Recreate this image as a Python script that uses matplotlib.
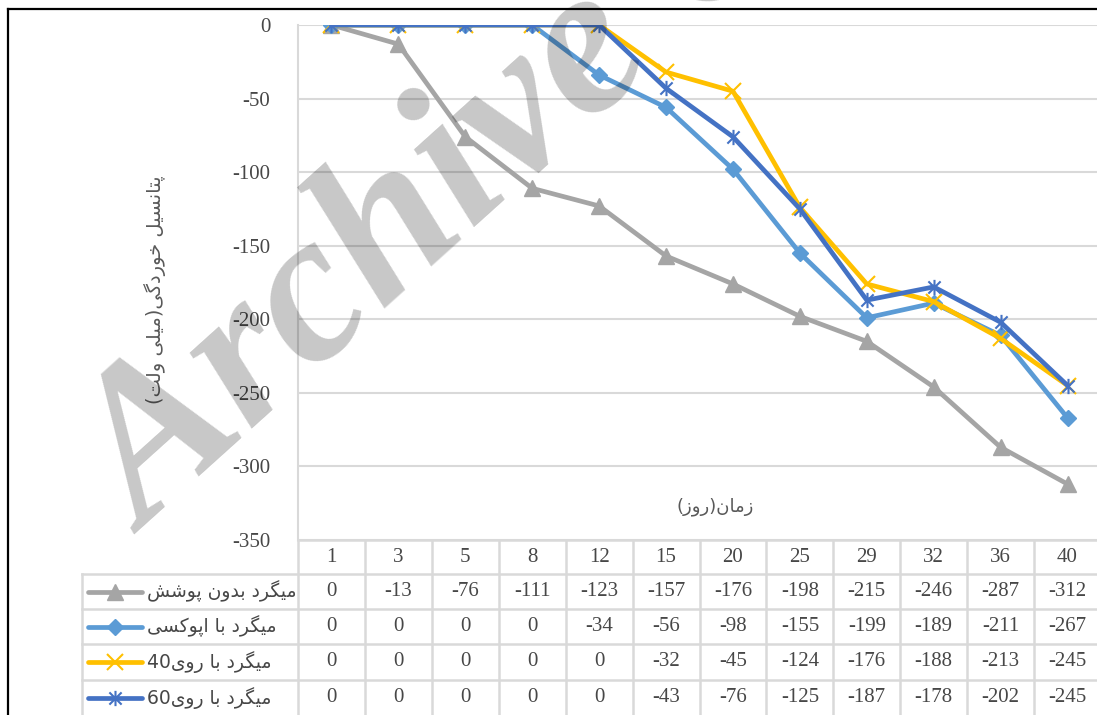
import matplotlib
matplotlib.use("Agg")
import matplotlib.pyplot as plt
from matplotlib import transforms
from matplotlib.lines import Line2D
from matplotlib.path import Path
import re

# ---------------- data ----------------
days = ["1", "3", "5", "8", "12", "15", "20", "25", "29", "32", "36", "40"]
uncoated = [0, -13, -76, -111, -123, -157, -176, -198, -215, -246, -287, -312]
epoxy = [0, 0, 0, 0, -34, -56, -98, -155, -199, -189, -211, -267]
zinc40 = [0, 0, 0, 0, 0, -32, -45, -124, -176, -188, -213, -245]
zinc60 = [0, 0, 0, 0, 0, -43, -76, -125, -187, -178, -202, -245]
series_names = ["میگرد بدون پوشش", "میگرد با اپوکسی", "میگرد با روی40", "میگرد با روی60"]
y_label = "پتانسیل خوردگی(میلی ولت)"
x_label = "زمان(روز)"
y_ticks = [0, -50, -100, -150, -200, -250, -300, -350]

# ------------- simple Persian shaping (visual order) -------------
FORMS = {
    'ا': ('\uFE8D', '\uFE8E', None, None),
    'ب': ('\uFE8F', '\uFE90', '\uFE91', '\uFE92'),
    'پ': ('\uFB56', '\uFB57', '\uFB58', '\uFB59'),
    'ت': ('\uFE95', '\uFE96', '\uFE97', '\uFE98'),
    'خ': ('\uFEA5', '\uFEA6', '\uFEA7', '\uFEA8'),
    'د': ('\uFEA9', '\uFEAA', None, None),
    'ر': ('\uFEAD', '\uFEAE', None, None),
    'ز': ('\uFEAF', '\uFEB0', None, None),
    'س': ('\uFEB1', '\uFEB2', '\uFEB3', '\uFEB4'),
    'ش': ('\uFEB5', '\uFEB6', '\uFEB7', '\uFEB8'),
    'ک': ('\uFB8E', '\uFB8F', '\uFB90', '\uFB91'),
    'گ': ('\uFB92', '\uFB93', '\uFB94', '\uFB95'),
    'ل': ('\uFEDD', '\uFEDE', '\uFEDF', '\uFEE0'),
    'م': ('\uFEE1', '\uFEE2', '\uFEE3', '\uFEE4'),
    'ن': ('\uFEE5', '\uFEE6', '\uFEE7', '\uFEE8'),
    'و': ('\uFEED', '\uFEEE', None, None),
    'ی': ('\uFBFC', '\uFBFD', '\uFBFE', '\uFBFF'),
}


def fa(s):
    out = []
    n = len(s)
    for i, c in enumerate(s):
        if c not in FORMS:
            out.append(c)
            continue
        iso, fin, ini, med = FORMS[c]
        prev_j = i > 0 and s[i - 1] in FORMS and FORMS[s[i - 1]][2] is not None
        next_j = i < n - 1 and s[i + 1] in FORMS and ini is not None
        if prev_j and next_j:
            out.append(med)
        elif prev_j:
            out.append(fin)
        elif next_j:
            out.append(ini)
        else:
            out.append(iso)
    v = "".join(out)[::-1]
    v = v.translate(str.maketrans("()", ")("))
    v = re.sub(r"[0-9]+", lambda m: m.group(0)[::-1], v)
    return v


SERIF = ["Liberation Serif", "DejaVu Sans"]
ARAB = ["DejaVu Sans"]

W, H = 1097, 715
fig = plt.figure(figsize=(W / 100, H / 100), dpi=100)
fig.patch.set_facecolor("white")


def px(x, y):
    return x / W, 1 - y / H


x0, x1 = 298, 1101
y0, y1 = 25, 540
ax = fig.add_axes([x0 / W, 1 - y1 / H, (x1 - x0) / W, (y1 - y0) / H])
ax.set_facecolor("none")

xs = list(range(len(days)))
grid_c = "#d9d9d9"
txt_c = "#474747"

# star marker (Excel style: X plus vertical bar)
star = Path([(-1, -1), (1, 1), (-1, 1), (1, -1), (0, -1.25), (0, 1.25)],
            [Path.MOVETO, Path.LINETO, Path.MOVETO, Path.LINETO, Path.MOVETO, Path.LINETO])

styles = [
    dict(color="#a5a5a5", marker="^", ms=12),
    dict(color="#5b9bd5", marker="D", ms=8.5),
    dict(color="#ffc000", marker="x", ms=11, mew=1.5),
    dict(color="#4472c4", marker=star, ms=11, mew=1.5),
]
data = [uncoated, epoxy, zinc40, zinc60]
for vals, st in zip(data, styles):
    ax.plot(xs, vals, lw=3.4, solid_joinstyle="round", zorder=3, **st)

ax.set_xlim(-0.5, len(days) - 0.5)
ax.set_ylim(-350, 0)
ax.set_yticks(y_ticks)
ax.set_yticklabels([str(t) for t in y_ticks], family=SERIF, fontsize=15, color=txt_c)
ax.tick_params(axis="y", length=0, pad=20)
ax.set_xticks([])
ax.grid(axis="y", color=grid_c, lw=1.5, zorder=0)
for sp in ["top", "right", "bottom"]:
    ax.spines[sp].set_visible(False)
ax.spines["left"].set_color(grid_c)
ax.spines["left"].set_linewidth(1.5)

ax.text(0.52, 0.065, fa(x_label), transform=ax.transAxes, ha="center", va="center",
        family=ARAB, fontsize=13, color="#595959")
fig.text(*px(155, 290), fa(y_label), rotation=90, ha="center", va="center",
         family=ARAB, fontsize=14, color="#595959")

# ---------------- data table ----------------
bt = transforms.blended_transform_factory(ax.transData, fig.transFigure)
row_y = [540, 574, 609, 644, 680, 716]


def fy(y):
    return 1 - y / H


# horizontal lines
fig.add_artist(Line2D([px(x0, 0)[0], px(x1, 0)[0]], [fy(540), fy(540)], color=grid_c, lw=1.8))
for y in row_y[1:]:
    fig.add_artist(Line2D([px(82, 0)[0], px(x1, 0)[0]], [fy(y), fy(y)], color=grid_c, lw=1.8))
# vertical lines
for i in range(len(days) + 1):
    fig.add_artist(Line2D([i - 0.5, i - 0.5], [fy(540), fy(716)], transform=bt, color=grid_c, lw=1.8))
fig.add_artist(Line2D([px(82, 0)[0]] * 2, [fy(574), fy(716)], color=grid_c, lw=1.8))

# header labels
for i, d in enumerate(days):
    fig.text(i, fy(558), d, transform=bt, ha="center", va="center", family=SERIF,
             fontsize=15, color=txt_c)
# values
for r, vals in enumerate(data):
    yc = (row_y[r + 1] + row_y[r + 2]) / 2
    for i, v in enumerate(vals):
        fig.text(i, fy(yc), str(v), transform=bt, ha="center", va="center", family=SERIF,
                 fontsize=15, color=txt_c)
    st = styles[r]
    fig.add_artist(Line2D([px(88, 0)[0], px(142, 0)[0]], [fy(yc), fy(yc)], lw=3.4,
                          color=st["color"], solid_capstyle="round"))
    fig.add_artist(Line2D([px(115, 0)[0]], [fy(yc)], lw=0, color=st["color"],
                          marker=st["marker"], ms=st["ms"], mew=st.get("mew", 1.0)))
    fig.text(*px(147, yc), fa(series_names[r]), ha="left", va="center", family=ARAB,
             fontsize=13.5, color=txt_c)

# frame lines of the page
fig.add_artist(Line2D([px(8, 0)[0], 1.0], [fy(9), fy(9)], color="black", lw=1.6))
fig.add_artist(Line2D([px(8, 0)[0]] * 2, [fy(9), 0], color="black", lw=1.6))

# watermark
fig.text(*px(145, 535), "Archive Of SID", rotation=42, rotation_mode="anchor",
         ha="left", va="baseline", family="Liberation Serif", fontweight="bold",
         style="italic", fontsize=155, color="black", alpha=0.22, zorder=10)

fig.savefig("out.png", dpi=100)
